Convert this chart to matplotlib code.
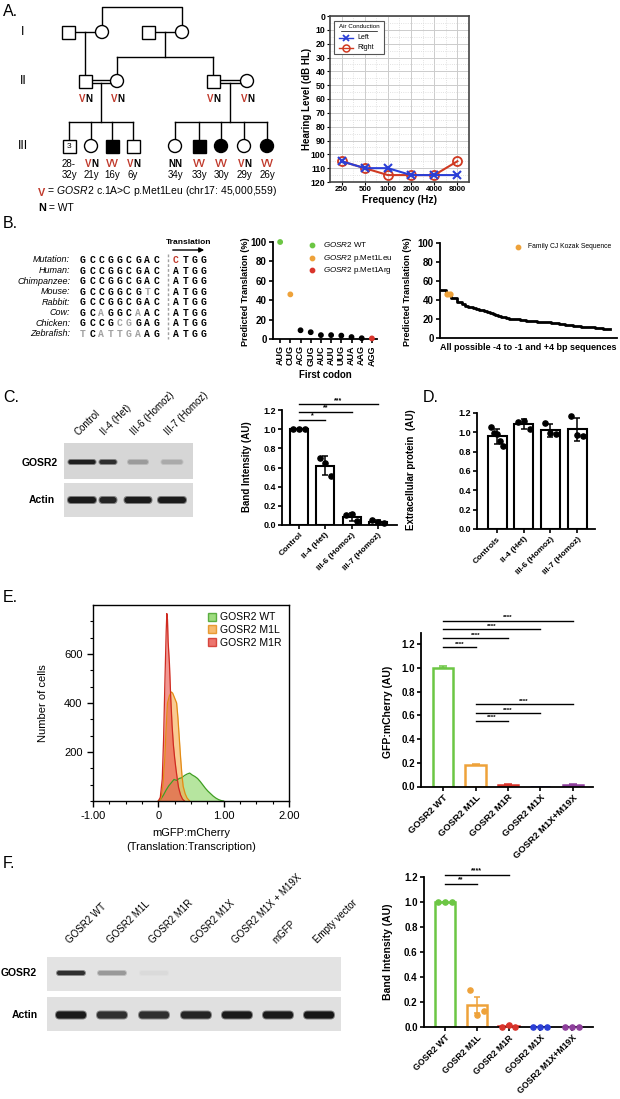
"""Multi-panel GOSR2 figure: pedigree, audiogram, Kozak, blots, bar charts."""

import numpy as np
import matplotlib
matplotlib.use("Agg")
import matplotlib.pyplot as plt
from matplotlib.patches import Rectangle, Circle, FancyBboxPatch, Patch

plt.rcParams["font.family"] = ["Liberation Sans", "DejaVu Sans"]
plt.rcParams["mathtext.fontset"] = "custom"
plt.rcParams["mathtext.it"] = "Liberation Sans:italic"
plt.rcParams["mathtext.rm"] = "Liberation Sans"
plt.rcParams["mathtext.bf"] = "Liberation Sans:bold"

W, H = 620, 1099
RED = "#c0392b"
GREEN = "#6cc644"
ORANGE = "#eea23a"
MRED = "#d9342b"
BLUE = "#2b3fd6"
PURPLE = "#8e3f9c"

# ---------------- data ----------------
gen2_geno = ["VN", "VN", "VN", "VN"]
gen3_geno = ["28-", "VN", "VV", "VN", "NN", "VV", "VV", "VN", "VV"]
gen3_age = ["32y", "21y", "16y", "6y", "34y", "33y", "30y", "29y", "26y"]

freqs = ["250", "500", "1000", "2000", "4000", "8000"]
left_ear = [105, 110, 110, 115, 115, 115]
right_ear = [105, 110, 115, 115, 115, 105]

species = ["Mutation:", "Human:", "Chimpanzee:", "Mouse:", "Rabbit:",
           "Cow:", "Chicken:", "Zebrafish:"]
upstream = ["GCCGGCGAC", "GCCGGCGAC", "GCCGGCGAC", "GCCGGCGTC",
            "GCCGGCGAC", "GCAGGCAAC", "GCCGCGGAG", "TCATTGAAG"]
start_seq = ["CTGG", "ATGG", "ATGG", "ATGG", "ATGG", "ATGG", "ATGG", "ATGG"]
gray_pos = [[], [], [], [7], [], [2, 6], [4, 5], [0, 2, 3, 4, 5, 6]]

codons = ["AUG", "CUG", "ACG", "GUG", "AUC", "AUU", "UUG", "AUA", "AAG", "AGG"]
codon_pct = [100, 46, 9, 7, 4, 4, 3.5, 2, 0.8, 0.6]
codon_col = [GREEN, ORANGE] + ["black"] * 7 + [MRED]

kozak_pct = [51, 51, 46.5, 45.8, 42, 42, 38, 38, 35.5, 34, 33, 33, 31.6, 31,
             30, 29, 28, 27.2, 26.3, 25.5, 24.5, 23.2, 22.5, 21.8, 21, 20.5,
             20, 19.8, 19.6, 19.2, 18.6, 18.2, 18, 18, 17.6, 17.2, 17, 16.9,
             16.8, 16.4, 16, 15.7, 15.3, 15, 14.6, 14.2, 13.8, 13.4, 13, 12.6,
             12.3, 12, 11.6, 11.4, 11.2, 11.1, 10.8, 10.5, 10.2, 10, 9.8, 9.5]
family_idx = [2, 3]

c_groups = ["Control", "II-4 (Het)", "III-6 (Homoz)", "III-7 (Homoz)"]
c_points = [[1.0, 1.0, 1.0], [0.70, 0.65, 0.51], [0.10, 0.11, 0.04], [0.05, 0.03, 0.02]]
c_gosr2_int = [0.92, 0.85, 0.30, 0.22]
c_actin_int = [0.95, 0.90, 0.95, 0.95]

d_groups = ["Controls", "II-4 (Het)", "III-6 (Homoz)", "III-7 (Homoz)"]
d_points = [[1.06, 0.99, 0.98, 0.91, 0.86], [1.11, 1.12, 1.03],
            [1.10, 0.99, 0.98], [1.17, 0.97, 0.96]]

wt_x = [0.00, 0.04, 0.08, 0.12, 0.16, 0.20, 0.24, 0.28, 0.32, 0.36, 0.40, 0.44,
        0.48, 0.52, 0.56, 0.60, 0.64, 0.68, 0.72, 0.76, 0.80, 0.84, 0.88, 0.92,
        0.96, 1.00]
wt_n = [0, 8, 25, 45, 62, 75, 88, 84, 92, 95, 104, 110, 114, 106, 100, 92, 80,
        66, 52, 40, 30, 20, 12, 6, 2, 0]
m1l_x = [0.00, 0.04, 0.07, 0.10, 0.12, 0.14, 0.17, 0.20, 0.22, 0.25, 0.28, 0.30,
         0.32, 0.34, 0.36, 0.38, 0.41, 0.44, 0.48]
m1l_n = [0, 10, 60, 180, 300, 400, 430, 445, 440, 420, 400, 340, 260, 180, 110,
         60, 30, 12, 0]
m1r_x = [0.00, 0.03, 0.06, 0.08, 0.10, 0.12, 0.13, 0.14, 0.15, 0.17, 0.19, 0.21,
         0.23, 0.25, 0.27, 0.29, 0.31, 0.34, 0.37, 0.40]
m1r_n = [0, 15, 90, 250, 480, 690, 765, 740, 650, 560, 420, 310, 230, 175, 130,
         90, 55, 25, 8, 0]

e_groups = ["GOSR2 WT", "GOSR2 M1L", "GOSR2 M1R", "GOSR2 M1X", "GOSR2 M1X+M19X"]
e_vals = [1.0, 0.18, 0.015, 0.0, 0.01]
e_err = [0.02, 0.01, 0.01, 0.0, 0.01]
e_col = [GREEN, ORANGE, MRED, BLUE, PURPLE]

f_lanes = ["GOSR2 WT", "GOSR2 M1L", "GOSR2 M1R", "GOSR2 M1X",
           "GOSR2 M1X + M19X", "mGFP", "Empty vector"]
f_gosr2_int = [0.85, 0.35, 0.04, 0.0, 0.0, 0.0, 0.0]
f_actin_int = [0.95, 0.85, 0.85, 0.90, 0.95, 0.95, 0.97]
f_points = [[1.0, 1.0, 1.0], [0.30, 0.10, 0.13], [0.0, 0.02, 0.0],
            [0.0, 0.0, 0.0], [0.0, 0.0, 0.0]]

# ---------------- figure ----------------
fig = plt.figure(figsize=(W / 100, H / 100), dpi=100)
canvas = fig.add_axes([0, 0, 1, 1])
canvas.set_xlim(0, W)
canvas.set_ylim(H, 0)
canvas.axis("off")


def px_axes(left, top, right, bottom):
    ax = fig.add_axes([left / W, 1 - bottom / H, (right - left) / W, (bottom - top) / H])
    ax.patch.set_alpha(0)
    return ax


def line(xs, ys, **kw):
    canvas.plot(xs, ys, color=kw.pop("color", "black"), lw=kw.pop("lw", 1.0), **kw)


for lbl, (x, y) in zip(["A.", "B.", "C.", "D.", "E.", "F."],
                       [(3, 11), (3, 223), (3, 398), (423, 397), (3, 598), (3, 863)]):
    canvas.text(x, y, lbl, fontsize=11.5, va="center", ha="left")

# ---------------- A: pedigree ----------------
S = 13


def person(x, y, sex, affected=False, inner=None):
    fc = "black" if affected else "white"
    if sex == "m":
        canvas.add_patch(Rectangle((x - S / 2, y - S / 2), S, S, fc=fc, ec="black", lw=1, zorder=3))
    else:
        canvas.add_patch(Circle((x, y), S / 2, fc=fc, ec="black", lw=1, zorder=3))
    if inner:
        canvas.text(x, y, inner, ha="center", va="center", fontsize=6, zorder=4)


def geno(x, y, s):
    if s == "VN":
        canvas.text(x + 0.5, y, "V", color=RED, ha="right", va="center", fontsize=7, fontweight="bold")
        canvas.text(x + 0.5, y, "N", color="black", ha="left", va="center", fontsize=7, fontweight="bold")
    elif s == "VV":
        canvas.text(x, y, s, color=RED, ha="center", va="center", fontsize=7, fontweight="bold")
    elif s == "NN":
        canvas.text(x, y, s, color="black", ha="center", va="center", fontsize=7, fontweight="bold")
    else:
        canvas.text(x, y, s, color="black", ha="center", va="center", fontsize=7)


gy = [32, 81, 146]
for g, y in zip(["I", "II", "III"], gy):
    canvas.text(23, y, g, ha="center", va="center", fontsize=9)

# generation I
line([102, 102, 182, 182], [25.5, 7, 7, 25.5])
line([74.5, 95.5], [32, 32])
line([154.5, 175.5], [32, 32])
line([85, 85], [32, 74.5])
line([165, 165], [32, 57])
line([117, 213], [57, 57])
line([117, 117], [57, 74.5])
line([213, 213], [57, 74.5])
for x, sex in [(68, "m"), (102, "f"), (148, "m"), (182, "f")]:
    person(x, gy[0], sex)

# generation II
gen2_x = [85, 117, 213, 247]
for a, b in [(85, 117), (213, 247)]:
    line([a + S / 2, b - S / 2], [79.5, 79.5])
    line([a + S / 2, b - S / 2], [82.5, 82.5])
for x, sex in zip(gen2_x, ["m", "f", "m", "f"]):
    person(x, gy[1], sex)
for x, g in zip(gen2_x, gen2_geno):
    geno(x, 99, g)

# generation III
fam1 = [(69, "m", False, "3"), (91, "f", False, None), (112, "m", True, None), (133, "m", False, None)]
fam2 = [(175, "f", False, None), (199, "m", True, None), (221, "f", True, None),
        (244, "f", False, None), (267, "f", True, None)]
for mid, fam in [(101, fam1), (230, fam2)]:
    line([mid, mid], [83, 122])
    line([fam[0][0], fam[-1][0]], [122, 122])
    for x, sex, aff, inner in fam:
        line([x, x], [122, gy[2] - S / 2])
        person(x, gy[2], sex, aff, inner)
for (x, *_), g, a in zip(fam1 + fam2, gen3_geno, gen3_age):
    geno(x, 164, g)
    canvas.text(x, 175.5, a, ha="center", va="center", fontsize=7)

v_txt = canvas.text(38, 193, "V", color=RED, fontsize=7.8, fontweight="bold", va="center")
canvas.annotate(r" = $\it{GOSR2}$ c.1A>C p.Met1Leu (chr17: 45,000,559)", xy=(1, 0),
                xycoords=v_txt, va="bottom", fontsize=7.5)
n_txt = canvas.text(38, 208, "N", fontsize=7.8, fontweight="bold", va="center")
canvas.annotate(" = WT", xy=(1, 0), xycoords=n_txt, va="bottom", fontsize=7.5)

# audiogram
ax = px_axes(330, 16, 469, 182)
ax.set_xlim(-0.5, 5.5)
ax.set_ylim(120, 0)
ax.set_yticks(range(0, 121, 10))
ax.set_yticks(np.arange(5, 120, 10), minor=True)
ax.set_xticks(range(len(freqs)))
ax.set_xticks(np.arange(0.5, 5, 1), minor=True)
ax.set_xticklabels(freqs, fontweight="bold", fontsize=5.6)
ax.set_yticklabels([str(v) for v in range(0, 121, 10)], fontweight="bold", fontsize=6.3)
ax.grid(which="major", color="#cccccc", lw=0.7)
ax.grid(which="minor", color="#d8d8d8", lw=0.6, ls=":")
ax.tick_params(which="major", length=2, pad=1.2)
ax.tick_params(which="minor", length=0)
for s in ax.spines.values():
    s.set_linewidth(1.2)
    s.set_color("#444444")
ax.plot(range(6), left_ear, color=BLUE, marker="x", ms=6, mew=1.5, lw=1.5, zorder=4)
ax.plot(range(6), right_ear, color="#d03a22", marker="o", mfc="none", ms=6.5, mew=1.3, lw=1.5, zorder=3)
ax.add_patch(Rectangle((0.03, 0.77), 0.36, 0.2, transform=ax.transAxes, fc="white",
                       ec="#555555", lw=0.8, zorder=5))
ax.text(0.21, 0.935, "Air Conduction", transform=ax.transAxes, fontsize=4.5, ha="center",
        va="center", zorder=6)
ax.plot([0.08, 0.34], [0.912, 0.912], transform=ax.transAxes, color="black", lw=0.5, zorder=6)
ax.plot([0.115], [0.868], transform=ax.transAxes, marker="x", color=BLUE, ms=5, mew=1.3, zorder=6)
ax.plot([0.065, 0.165], [0.868, 0.868], transform=ax.transAxes, color=BLUE, lw=1, zorder=6)
ax.plot([0.115], [0.81], transform=ax.transAxes, marker="o", mfc="none", color="#d03a22",
        ms=5, mew=1.1, zorder=6)
ax.plot([0.065, 0.165], [0.81, 0.81], transform=ax.transAxes, color="#d03a22", lw=1, zorder=6)
ax.text(0.2, 0.868, "Left", transform=ax.transAxes, fontsize=5, va="center", zorder=6)
ax.text(0.2, 0.81, "Right", transform=ax.transAxes, fontsize=5, va="center", zorder=6)
canvas.text(307, 99, "Hearing Level (dB HL)", rotation=90, ha="center", va="center",
            fontsize=7, fontweight="bold")
canvas.text(400, 200, "Frequency (Hz)", ha="center", va="center", fontsize=7.5, fontweight="bold")

# ---------------- B ----------------
row_y = np.linspace(260, 334, len(species))
for y, sp, up, st, gp in zip(row_y, species, upstream, start_seq, gray_pos):
    canvas.text(70, y, sp, ha="right", va="center", fontsize=6.5, style="italic")
    for i, ch in enumerate(up):
        canvas.text(83 + i * 9.2, y, ch, ha="center", va="center", fontsize=7,
                    family="Liberation Mono", fontweight="bold",
                    color="#a0a0a0" if i in gp else "black")
    for j, ch in enumerate(st):
        col = RED if (sp == "Mutation:" and j == 0) else "black"
        canvas.text(176 + j * 9.2, y, ch, ha="center", va="center", fontsize=7,
                    family="Liberation Mono", fontweight="bold", color=col)
line([168, 168], [254, 339], color="#a0a0a0", lw=1, ls=(0, (2, 1.5)))
canvas.text(189, 242, "Translation", ha="center", va="center", fontsize=6, fontweight="bold")
canvas.annotate("", xy=(207, 250), xytext=(170, 250),
                arrowprops=dict(arrowstyle="-|>", color="black", lw=1, mutation_scale=7))


def prism(ax, xlim, ylim, yticks, fmt="{:.1f}", size=7):
    ax.set_xlim(*xlim)
    ax.set_ylim(*ylim)
    ax.spines[["top", "right"]].set_visible(False)
    ax.spines[["left", "bottom"]].set_linewidth(1.3)
    ax.set_yticks(yticks)
    ax.set_yticklabels([fmt.format(t) for t in yticks], fontweight="bold", fontsize=size)
    ax.tick_params(direction="out", length=3, width=1.2, pad=1.5)


ax = px_axes(273, 242, 377, 339)
prism(ax, (-0.7, 9.5), (0, 100), range(0, 101, 20), fmt="{:.0f}")
ax.scatter(range(len(codons)), codon_pct, c=codon_col, s=10, zorder=3, clip_on=False)
ax.set_xticks(range(len(codons)))
ax.set_xticklabels(codons, rotation=90, fontweight="bold", fontsize=6.5)
for yf, c, name in [(0.97, GREEN, r"$\it{GOSR2}$ WT"), (0.835, ORANGE, r"$\it{GOSR2}$ p.Met1Leu"),
                    (0.71, MRED, r"$\it{GOSR2}$ p.Met1Arg")]:
    ax.scatter([0.375], [yf], transform=ax.transAxes, s=10, color=c, clip_on=False)
    ax.text(0.48, yf, name, transform=ax.transAxes, fontsize=5.8, va="center")
canvas.text(245, 292, "Predicted Translation (%)", rotation=90, ha="center", va="center",
            fontsize=6.5, fontweight="bold")
canvas.text(325, 375, "First codon", ha="center", va="center", fontsize=7, fontweight="bold")

ax = px_axes(440, 243, 617, 338)
prism(ax, (-0.5, 63.4), (0, 100), range(0, 101, 20), fmt="{:.0f}")
ax.set_xticks([])
ax.plot(range(len(kozak_pct)), kozak_pct, drawstyle="steps-mid", color="black", lw=2)
ax.scatter(family_idx, [kozak_pct[i] for i in family_idx], color=ORANGE, s=12, zorder=4)
ax.scatter([0.44], [0.958], transform=ax.transAxes, s=10, color=ORANGE, clip_on=False)
ax.text(0.5, 0.958, "Family CJ Kozak Sequence", transform=ax.transAxes, fontsize=4.9, va="center")
canvas.text(408, 292, "Predicted Translation (%)", rotation=90, ha="center", va="center",
            fontsize=6.5, fontweight="bold")
canvas.text(528, 348, "All possible -4 to -1 and +4 bp sequences", ha="center", va="center",
            fontsize=6.5, fontweight="bold")


# ---------------- blots ----------------
def band(xc, yc, w, h, inten, bg):
    if inten <= 0:
        return
    core = bg * (1 - inten) + 0.06 * inten
    halo = (core + bg) / 2
    canvas.add_patch(FancyBboxPatch((xc - w / 2 - 1, yc - h / 2 - 1), w + 2, h + 2,
                                    boxstyle=f"round,pad=0,rounding_size={h / 2 + 1}",
                                    fc=(halo,) * 3, ec="none"))
    canvas.add_patch(FancyBboxPatch((xc - w / 2, yc - h / 2), w, h,
                                    boxstyle=f"round,pad=0,rounding_size={h / 2}",
                                    fc=(core,) * 3, ec="none"))


c_lane_x = [82, 108, 138, 172]
c_gosr2_w = [27, 17, 20, 21]
c_actin_w = [28, 17, 27, 28]
canvas.add_patch(Rectangle((64, 443), 129, 36, fc=(0.84,) * 3, ec="none"))
canvas.add_patch(Rectangle((64, 483), 129, 34, fc=(0.86,) * 3, ec="none"))
for x, w, i in zip(c_lane_x, c_gosr2_w, c_gosr2_int):
    band(x, 462, w, 4, i, 0.84)
for x, w, i in zip(c_lane_x, c_actin_w, c_actin_int):
    band(x, 500, w, 6, i, 0.86)
for x, name in zip(c_lane_x, c_groups):
    canvas.text(x - 2, 437, name, rotation=45, rotation_mode="anchor", ha="left",
                va="bottom", fontsize=7)
canvas.text(40, 463, "GOSR2", ha="center", va="center", fontsize=7.5, fontweight="bold")
canvas.text(42, 500, "Actin", ha="center", va="center", fontsize=7.5, fontweight="bold")

f_lane_x = [71, 112, 154, 196, 237, 278, 319]
canvas.add_patch(Rectangle((47, 957), 294, 34, fc=(0.89,) * 3, ec="none"))
canvas.add_patch(Rectangle((47, 997), 294, 34, fc=(0.88,) * 3, ec="none"))
for x, i in zip(f_lane_x, f_gosr2_int):
    band(x, 973, 28, 4, i, 0.89)
for x, i in zip(f_lane_x, f_actin_int):
    band(x, 1015, 30, 7, i, 0.88)
for x, name in zip(f_lane_x, f_lanes):
    canvas.text(x, 945, name, rotation=45, rotation_mode="anchor", ha="left",
                va="bottom", fontsize=7)
canvas.text(19, 973, "GOSR2", ha="center", va="center", fontsize=7.5, fontweight="bold")
canvas.text(25, 1015, "Actin", ha="center", va="center", fontsize=7.5, fontweight="bold")


# ---------------- bar charts ----------------
def offsets(n):
    return np.linspace(-0.22, 0.22, n) if n > 1 else np.zeros(1)


def sig(ax, i, j, y, label, fs=5):
    ax.plot([i, j], [y, y], color="black", lw=1, clip_on=False)
    ax.text((i + j) / 2, y + 0.005, label, ha="center", va="bottom", fontsize=fs,
            fontweight="bold", clip_on=False)


def dot_bars(ax, pts, colors, width, err="sd", lw=1.5):
    for k, (p, c) in enumerate(zip(pts, colors)):
        p = np.asarray(p)
        m = p.mean()
        e = p.std(ddof=1) if err == "sd" else p.std(ddof=1) / np.sqrt(len(p))
        ax.bar(k, m, width, facecolor="white", edgecolor=c, linewidth=lw, zorder=2)
        ax.errorbar(k, m, yerr=e, fmt="none", ecolor=c, elinewidth=1.1, capsize=2.5,
                    capthick=1.1, zorder=3)
        ax.scatter(k + offsets(len(p)), p, s=14, color=c, zorder=4, clip_on=False)


def xlabels(ax, labels, size):
    ax.set_xticks(range(len(labels)))
    ax.set_xticklabels(labels, rotation=45, ha="right", rotation_mode="anchor",
                       fontweight="bold", fontsize=size)


# C bars
ax = px_axes(282, 410, 397, 525)
prism(ax, (-0.65, 3.73), (0, 1.2), np.arange(0, 1.21, 0.2), size=6.5)
dot_bars(ax, c_points, ["black"] * 4, 0.68)
xlabels(ax, c_groups, 6)
sig(ax, 0, 1, 1.094, "*")
sig(ax, 0, 2, 1.177, "**")
sig(ax, 0, 3, 1.26, "***")
canvas.text(247, 467, "Band Intensity (AU)", rotation=90, ha="center", va="center",
            fontsize=7, fontweight="bold")

# D bars
ax = px_axes(477, 413, 595, 529)
prism(ax, (-0.75, 3.67), (0, 1.2), np.arange(0, 1.21, 0.2), size=6.5)
dot_bars(ax, d_points, ["black"] * 4, 0.71)
xlabels(ax, d_groups, 6)
canvas.text(411, 470, "Extracellular protein  (AU)", rotation=90, ha="center", va="center",
            fontsize=7, fontweight="bold")

# E histogram
ax = px_axes(93, 605, 289, 801)
ax.patch.set_alpha(1)
for xs, ns, fc, ec in [(wt_x, wt_n, "#86d45f", "#3f9e22"),
                       (m1l_x, m1l_n, "#f5a94a", "#e38b14"),
                       (m1r_x, m1r_n, "#e8524a", "#cf2a20")]:
    ax.fill_between(xs, ns, color=fc, alpha=0.6, lw=0)
    ax.plot(xs, ns, color=ec, lw=0.9)
ax.set_xlim(-1, 2)
ax.set_ylim(0, 800)
ax.set_xticks([-1, 0, 1, 2])
ax.set_xticklabels(["-1.00", "0", "1.00", "2.00"], fontsize=8)
ax.set_xticks(np.arange(-1, 2.01, 0.25), minor=True)
ax.set_yticks([200, 400, 600])
ax.set_yticklabels(["200", "400", "600"], fontsize=8)
ax.set_yticks(np.arange(0, 800, 200 / 3), minor=True)
ax.tick_params(which="major", direction="out", length=4, width=1)
ax.tick_params(which="minor", direction="out", length=2.5, width=0.8)
for s in ax.spines.values():
    s.set_linewidth(1)
handles = [Patch(fc="#86d45f", ec="#3f9e22", alpha=0.8), Patch(fc="#f5a94a", ec="#e38b14", alpha=0.8),
           Patch(fc="#e8524a", ec="#cf2a20", alpha=0.8)]
ax.legend(handles, ["GOSR2 WT", "GOSR2 M1L", "GOSR2 M1R"], loc="upper right", frameon=False,
          fontsize=7.5, handlelength=0.8, handleheight=0.8, handletextpad=0.4,
          labelspacing=0.25, borderaxespad=0.3)
canvas.text(43, 703, "Number of cells", rotation=90, ha="center", va="center", fontsize=8)
canvas.text(191, 833, "mGFP:mCherry", ha="center", va="center", fontsize=8)
canvas.text(191, 847, "(Translation:Transcription)", ha="center", va="center", fontsize=8)

# E bars
ax = px_axes(421, 632.5, 593, 786.5)
prism(ax, (-0.68, 4.62), (0, 1.3), np.arange(0, 1.21, 0.2))
for k, (v, e, c) in enumerate(zip(e_vals, e_err, e_col)):
    ax.bar(k, v, 0.62, facecolor="white", edgecolor=c, linewidth=1.8, zorder=2)
    if e > 0:
        ax.errorbar(k, v, yerr=[[0], [e]], fmt="none", ecolor=c, elinewidth=1.1,
                    capsize=3, capthick=1.1, zorder=3)
xlabels(ax, e_groups, 6.8)
for j, y in zip([1, 2, 3, 4], [1.177, 1.253, 1.329, 1.397]):
    sig(ax, 0, j, y, "****", fs=4.5)
for j, y in zip([2, 3, 4], [0.553, 0.62, 0.696]):
    sig(ax, 1, j, y, "****", fs=4.5)
canvas.text(388, 712, "GFP:mCherry (AU)", rotation=90, ha="center", va="center",
            fontsize=7.5, fontweight="bold")

# F bars
ax = px_axes(424, 877, 593, 1027)
prism(ax, (-0.66, 4.66), (0, 1.2), np.arange(0, 1.21, 0.2))
dot_bars(ax, f_points, e_col, 0.63, err="sem", lw=1.8)
xlabels(ax, e_groups, 6.3)
sig(ax, 0, 1, 1.144, "**")
sig(ax, 0, 2, 1.216, "****")
canvas.text(388, 952, "Band Intensity (AU)", rotation=90, ha="center", va="center",
            fontsize=7.5, fontweight="bold")

fig.savefig("out.png", dpi=100)
